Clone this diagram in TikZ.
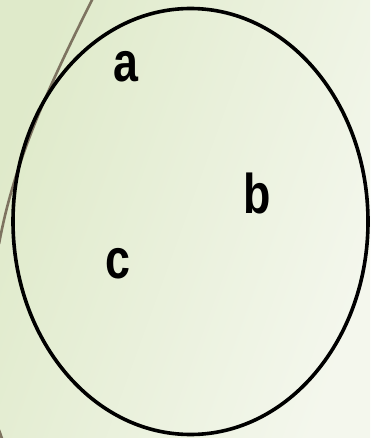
\documentclass[tikz,border=0pt]{standalone}
\usepackage{fontspec}
\setmainfont{Liberation Sans}
\usetikzlibrary{shapes.geometric}
\definecolor{bgleft}{RGB}{223,234,202}
\definecolor{bgright}{RGB}{244,247,237}
\definecolor{arcgray}{RGB}{125,115,96}
\tikzset{
  lbl/.style={anchor=base, inner sep=0pt, font=\fontsize{56}{60}\selectfont\bfseries, xscale=0.8},
  ring/.style={draw=black, line width=3.6pt},
  guide/.style={draw=arcgray, line width=2.6pt}
}
\begin{document}
\begin{tikzpicture}[x=1pt,y=-1pt]
  \shade[left color=bgleft, right color=bgright, shading angle=70] (0,0) rectangle (370,438);
  \useasboundingbox (0,0) rectangle (370,438);
  \coordinate (g1) at (93,-2);
  \coordinate (g2) at (-1,244);
  \draw[guide] (g1) .. controls (54,76) and (15,156) .. (g2);
  \coordinate (h1) at (-1,430);
  \coordinate (h2) at (2.5,440);
  \draw[guide] (h1) -- (h2);
  \node[ring, ellipse, minimum width=355pt, minimum height=426pt, inner sep=0pt] (set) at (190.5,221.5) {};
  \node[lbl] (a) at (126,82) {a};
  \node[lbl] (b) at (257.5,213) {b};
  \node[lbl] (c) at (117.5,278) {c};
\end{tikzpicture}
\end{document}
